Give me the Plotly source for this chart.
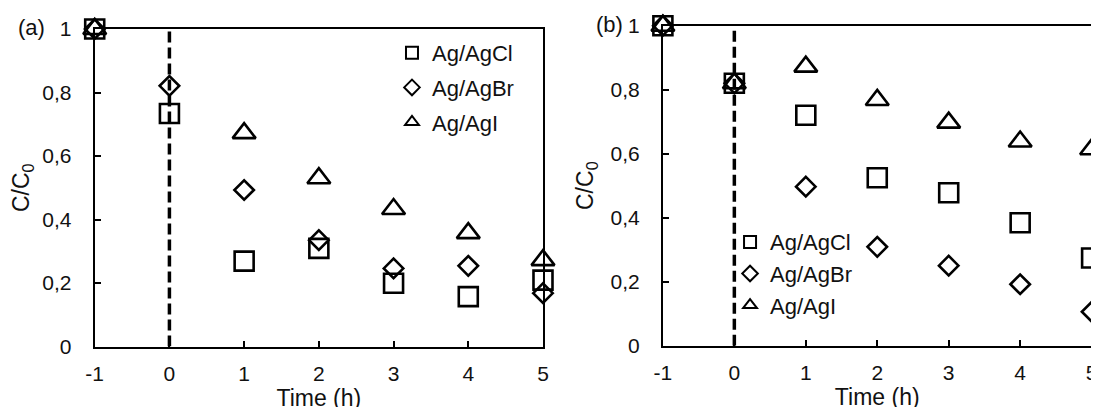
import plotly.graph_objects as go

# ---- data ----
time_h = [-1, 0, 1, 2, 3, 4, 5]
series_names = ["Ag/AgCl", "Ag/AgBr", "Ag/AgI"]

# panel (a)
a_agcl = [1.0, 0.734, 0.269, 0.309, 0.199, 0.157, 0.209]
a_agbr = [1.0, 0.821, 0.493, 0.335, 0.246, 0.254, 0.168]
a_agi = [1.0, None, 0.672, 0.530, 0.433, 0.357, 0.272]

# panel (b)
b_agcl = [1.0, 0.820, 0.720, 0.525, 0.478, 0.384, 0.274]
b_agbr = [1.0, 0.820, 0.497, 0.309, 0.250, 0.192, 0.106]
b_agi = [1.0, 0.820, 0.872, 0.768, 0.697, 0.638, 0.614]

x_tick_vals = [-1, 0, 1, 2, 3, 4, 5]
x_tick_text = ["-1", "0", "1", "2", "3", "4", "5"]
y_tick_vals = [0, 0.2, 0.4, 0.6, 0.8, 1]
y_tick_text = ["0", "0,2", "0,4", "0,6", "0,8", "1"]
panel_labels = ["(a)", "(b)"]
x_title = "Time (h)"
y_title = "C/C<sub>0</sub>"
marker_line_x = [0, 0]
marker_line_y = [0, 1]

# ---- style ----
FONT = "Liberation Sans, Arial, sans-serif"
INK = "#000000"
TXT = "#111111"
symbols = ["square-open", "diamond-open", "triangle-up-open"]
sizes = [19, 15, 20]

fig = go.Figure()

panels = [
    ("x", "y", "legend", [a_agcl, a_agbr, a_agi]),
    ("x2", "y2", "legend2", [b_agcl, b_agbr, b_agi]),
]
for xa, ya, lg, data in panels:
    for name, vals, sym, sz in zip(series_names, data, symbols, sizes):
        fig.add_trace(go.Scatter(
            x=time_h, y=vals, mode="markers", name=name,
            xaxis=xa, yaxis=ya, legend=lg, legendgroup=lg + name,
            cliponaxis=False,
            marker=dict(symbol=sym, size=sz, color=INK,
                        line=dict(color=INK, width=2.6)),
        ))
    # dashed vertical line at t = 0
    fig.add_trace(go.Scatter(
        x=marker_line_x, y=marker_line_y, mode="lines", showlegend=False,
        xaxis=xa, yaxis=ya, hoverinfo="skip", cliponaxis=False,
        line=dict(color=INK, width=3.5, dash="11px,5px"),
    ))

axis_common = dict(
    showline=True, linecolor=INK, linewidth=2, mirror=True,
    ticks="inside", ticklen=6, tickwidth=1.5, tickcolor=INK,
    showgrid=False, zeroline=False, automargin=False,
    tickfont=dict(family=FONT, size=21, color=TXT),
)
xcommon = dict(axis_common, range=[-1, 5], tickvals=x_tick_vals, ticktext=x_tick_text,
               ticklabelstandoff=7,
               title=dict(text=x_title, font=dict(family=FONT, size=23, color=TXT), standoff=0))
ycommon = dict(axis_common, range=[0, 1], tickvals=y_tick_vals, ticktext=y_tick_text,
               ticklabelstandoff=17,
               title=dict(text=y_title, font=dict(family=FONT, size=23, color=TXT), standoff=10))

legend_common = dict(
    font=dict(family=FONT, size=22, color=TXT), bgcolor="rgba(0,0,0,0)",
    itemsizing="constant", xanchor="left", yanchor="top",
)

fig.update_layout(
    width=1099, height=407,
    margin=dict(l=0, r=0, t=0, b=0),
    paper_bgcolor="white", plot_bgcolor="white",
    font=dict(family=FONT, color=TXT),
    xaxis=dict(xcommon, domain=[0.0789, 0.4868], anchor="y"),
    yaxis=dict(ycommon, domain=[0.1683, 0.9484], anchor="x"),
    xaxis2=dict(xcommon, domain=[0.5959, 0.9860], anchor="y2"),
    yaxis2=dict(ycommon, domain=[0.1703, 0.9565], anchor="x2"),
    legend=dict(legend_common, x=0.3494, y=0.941, traceorder="grouped", tracegroupgap=3),
    legend2=dict(legend_common, x=0.657, y=0.4764, traceorder="normal"),
    showlegend=True,
    annotations=[
        dict(text=panel_labels[0], x=8 / 1099, y=(407 - 20) / 407, xref="paper", yref="paper",
             xanchor="left", yanchor="middle", showarrow=False,
             font=dict(family=FONT, size=22, color=TXT)),
        dict(text=panel_labels[1], x=586 / 1099, y=(407 - 17) / 407, xref="paper", yref="paper",
             xanchor="left", yanchor="middle", showarrow=False,
             font=dict(family=FONT, size=22, color=TXT)),
    ],
)

fig.write_html("out.html")
